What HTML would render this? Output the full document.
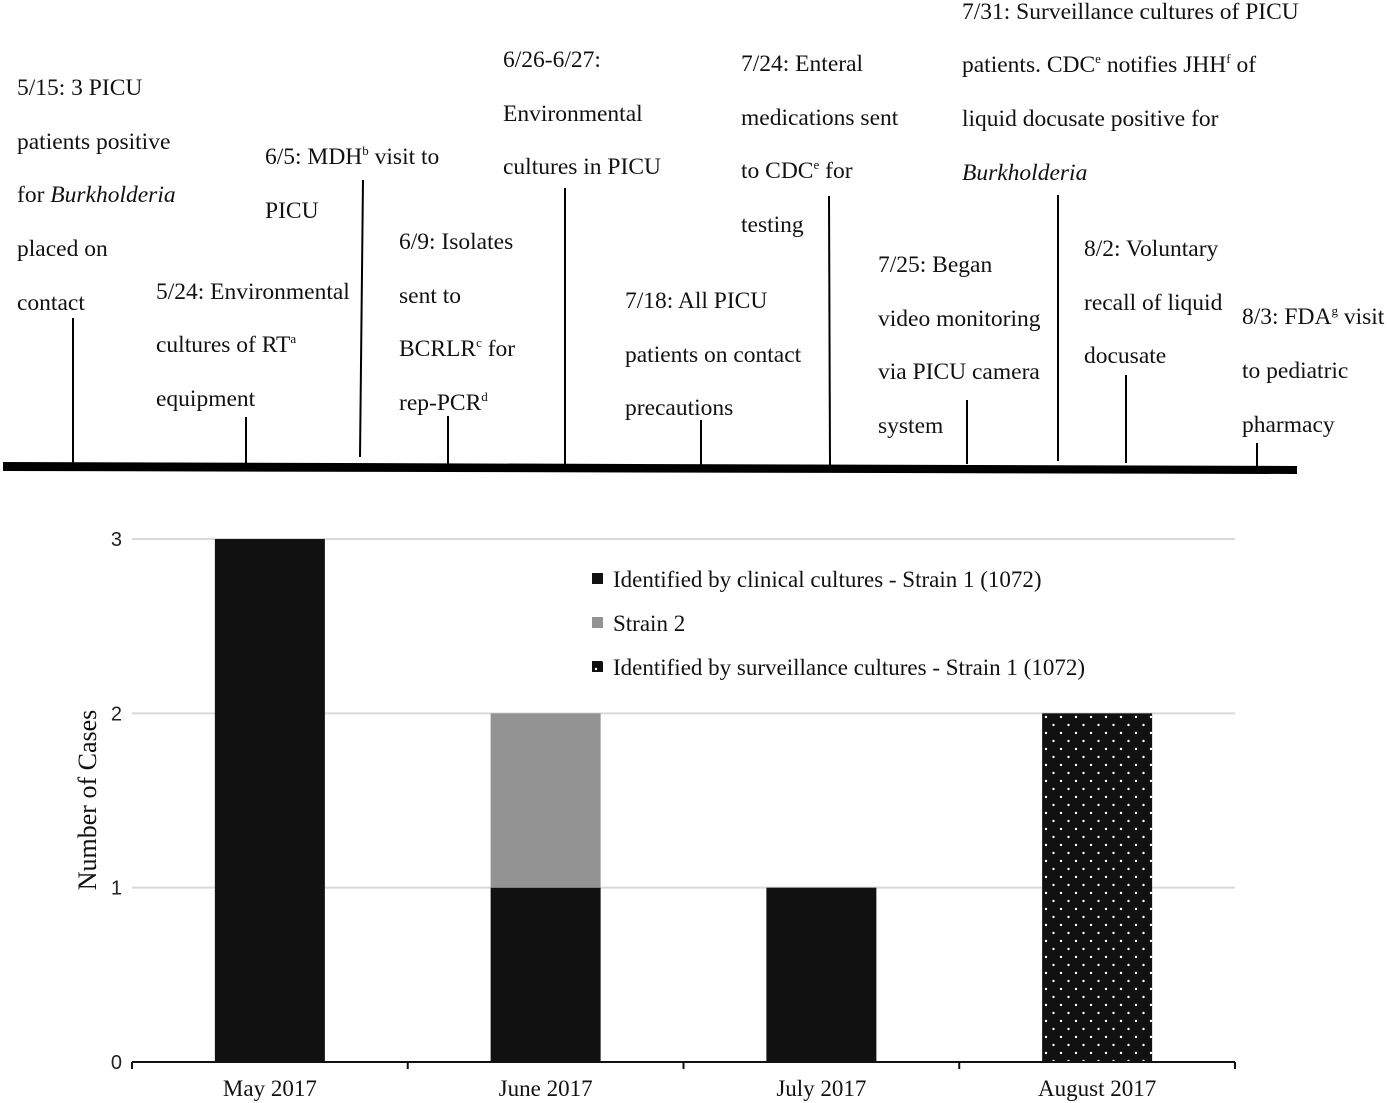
<!DOCTYPE html>
<html><head><meta charset="utf-8"><style>
body{margin:0;background:#fff;}
svg{display:block;font-family:"Liberation Serif",serif;}
.t{font-size:23.5px;fill:#111;}
.sup{font-size:13px;}
</style></head><body>
<svg width="1387" height="1103" viewBox="0 0 1387 1103">
<defs>
<pattern id="dots" width="15" height="16" patternUnits="userSpaceOnUse" x="1043" y="714">
<rect width="15" height="16" fill="#111"/>
<circle cx="3" cy="3" r="1.2" fill="#fff"/>
<circle cx="10.5" cy="11" r="1.2" fill="#fff"/>
</pattern>
</defs>
<g id="timeline">
<polygon points="3,462 1297,466 1297,474 3,471" fill="#000"/>
<g stroke="#000" stroke-width="2">
<line x1="73" y1="318" x2="73" y2="465"/>
<line x1="246" y1="417" x2="246" y2="465"/>
<line x1="363" y1="180" x2="360" y2="457"/>
<line x1="448" y1="416" x2="448" y2="465"/>
<line x1="565" y1="188" x2="565" y2="466"/>
<line x1="701" y1="420" x2="701" y2="466"/>
<line x1="829" y1="196" x2="830" y2="466"/>
<line x1="967" y1="400" x2="967" y2="464"/>
<line x1="1058" y1="195" x2="1058" y2="461"/>
<line x1="1126" y1="375" x2="1126" y2="463"/>
<line x1="1257" y1="443" x2="1257" y2="466"/>
</g>
<g class="t">
<text x="17" y="95"><tspan x="17">5/15: 3 PICU</tspan><tspan x="17" dy="54">patients positive</tspan><tspan x="17" dy="53">for <tspan font-style="italic">Burkholderia</tspan></tspan><tspan x="17" dy="54">placed on</tspan><tspan x="17" dy="54">contact</tspan></text>
<text x="156" y="299"><tspan x="156">5/24: Environmental</tspan><tspan x="156" dy="53">cultures of RT<tspan class="sup" dy="-9">a</tspan></tspan><tspan x="156" dy="63">equipment</tspan></text>
<text x="265" y="164"><tspan x="265">6/5: MDH<tspan class="sup" dy="-9">b</tspan><tspan dy="9"> visit to</tspan></tspan><tspan x="265" dy="54">PICU</tspan></text>
<text x="399" y="249"><tspan x="399">6/9: Isolates</tspan><tspan x="399" dy="54">sent to</tspan><tspan x="399" dy="53">BCRLR<tspan class="sup" dy="-9">c</tspan><tspan dy="9"> for</tspan></tspan><tspan x="399" dy="54">rep-PCR<tspan class="sup" dy="-9">d</tspan></tspan></text>
<text x="503" y="67"><tspan x="503">6/26-6/27:</tspan><tspan x="503" dy="54">Environmental</tspan><tspan x="503" dy="53">cultures in PICU</tspan></text>
<text x="625" y="308"><tspan x="625">7/18: All PICU</tspan><tspan x="625" dy="54">patients on contact</tspan><tspan x="625" dy="53">precautions</tspan></text>
<text x="741" y="71"><tspan x="741">7/24: Enteral</tspan><tspan x="741" dy="54">medications sent</tspan><tspan x="741" dy="53">to CDC<tspan class="sup" dy="-9">e</tspan><tspan dy="9"> for</tspan></tspan><tspan x="741" dy="54">testing</tspan></text>
<text x="878" y="272"><tspan x="878">7/25: Began</tspan><tspan x="878" dy="54">video monitoring</tspan><tspan x="878" dy="53">via PICU camera</tspan><tspan x="878" dy="54">system</tspan></text>
<text x="962" y="19"><tspan x="962">7/31: Surveillance cultures of PICU</tspan><tspan x="962" dy="53">patients. CDC<tspan class="sup" dy="-9">e</tspan><tspan dy="9"> notifies JHH</tspan><tspan class="sup" dy="-9">f</tspan><tspan dy="9"> of</tspan></tspan><tspan x="962" dy="54">liquid docusate positive for</tspan><tspan x="962" dy="54" font-style="italic">Burkholderia</tspan></text>
<text x="1084" y="256"><tspan x="1084">8/2: Voluntary</tspan><tspan x="1084" dy="54">recall of liquid</tspan><tspan x="1084" dy="53">docusate</tspan></text>
<text x="1242" y="324"><tspan x="1242">8/3: FDA<tspan class="sup" dy="-9">g</tspan><tspan dy="9"> visit</tspan></tspan><tspan x="1242" dy="54">to pediatric</tspan><tspan x="1242" dy="54">pharmacy</tspan></text>
</g>
</g>
<g id="chart"></g>
</svg>
<script>
const categories = ["May 2017","June 2017","July 2017","August 2017"];
const clinicalStrain1 = [3,1,1,0];
const strain2 = [0,1,0,0];
const surveillanceStrain1 = [0,0,0,2];
const yTicks = [0,1,2,3];
const legendLabels = ["Identified by clinical cultures - Strain 1 (1072)","Strain 2","Identified by surveillance cultures - Strain 1 (1072)"];

const NS="http://www.w3.org/2000/svg";
const g=document.getElementById('chart');
const X0=132,X1=1235,Y0=1062,Y3=539;
const band=(X1-X0)/categories.length;
const yS=v=>Y0-(Y0-Y3)*v/3;
const xC=i=>X0+band*(i+0.5);
const bw=110;
function mk(tag,attrs){const e=document.createElementNS(NS,tag);for(const k in attrs)e.setAttribute(k,attrs[k]);g.appendChild(e);return e;}
yTicks.forEach(t=>{
  if(t>0){const l=mk('line',{x1:X0,x2:X1,y1:yS(t),y2:yS(t),stroke:'#d9d9d9','stroke-width':2});
  
  }
  const tx=mk('text',{x:X0-10,y:yS(t)+7,'text-anchor':'end','font-size':20,'font-family':'Liberation Sans, sans-serif',fill:'#222'});
  tx.textContent=t;
  
  
});
const series=[[clinicalStrain1,'#111'],[strain2,'#939393'],[surveillanceStrain1,'url(#dots)']];
categories.forEach((c,i)=>{
  let base=0;
  series.forEach(([arr,fill],s)=>{
    const v=arr[i]; if(!v) return;
    const r=mk('rect',{x:xC(i)-bw/2,y:yS(base+v),width:bw,height:yS(base)-yS(base+v),fill:fill});
    
    
    base+=v;
  });
  const tx=mk('text',{x:xC(i),y:1096,'text-anchor':'middle','font-size':23,fill:'#111'});
  tx.textContent=c;
  
  
});
const ax=mk('line',{x1:X0,x2:X1,y1:Y0,y2:Y0,stroke:'#111','stroke-width':2});


for(let i=0;i<=categories.length;i++){
  const tk=mk('line',{x1:X0+band*i,x2:X0+band*i,y1:Y0,y2:Y0+7,stroke:'#111','stroke-width':2});
  
  
}
const yt=mk('text',{x:0,y:0,transform:'translate(96,800) rotate(-90)','text-anchor':'middle','font-size':26,fill:'#111'});
yt.textContent='Number of Cases';


const lfills=['#111','#939393','url(#dots)'];
legendLabels.forEach((l,i)=>{
  const y=579+44*i;
  const sw=mk('rect',{x:592,y:y-6,width:11,height:11,fill:lfills[i]});
  
  
  const t=mk('text',{x:613,y:y+8,'font-size':23,fill:'#111'});
  t.textContent=l;
  
  
});
</script>
</body></html>
